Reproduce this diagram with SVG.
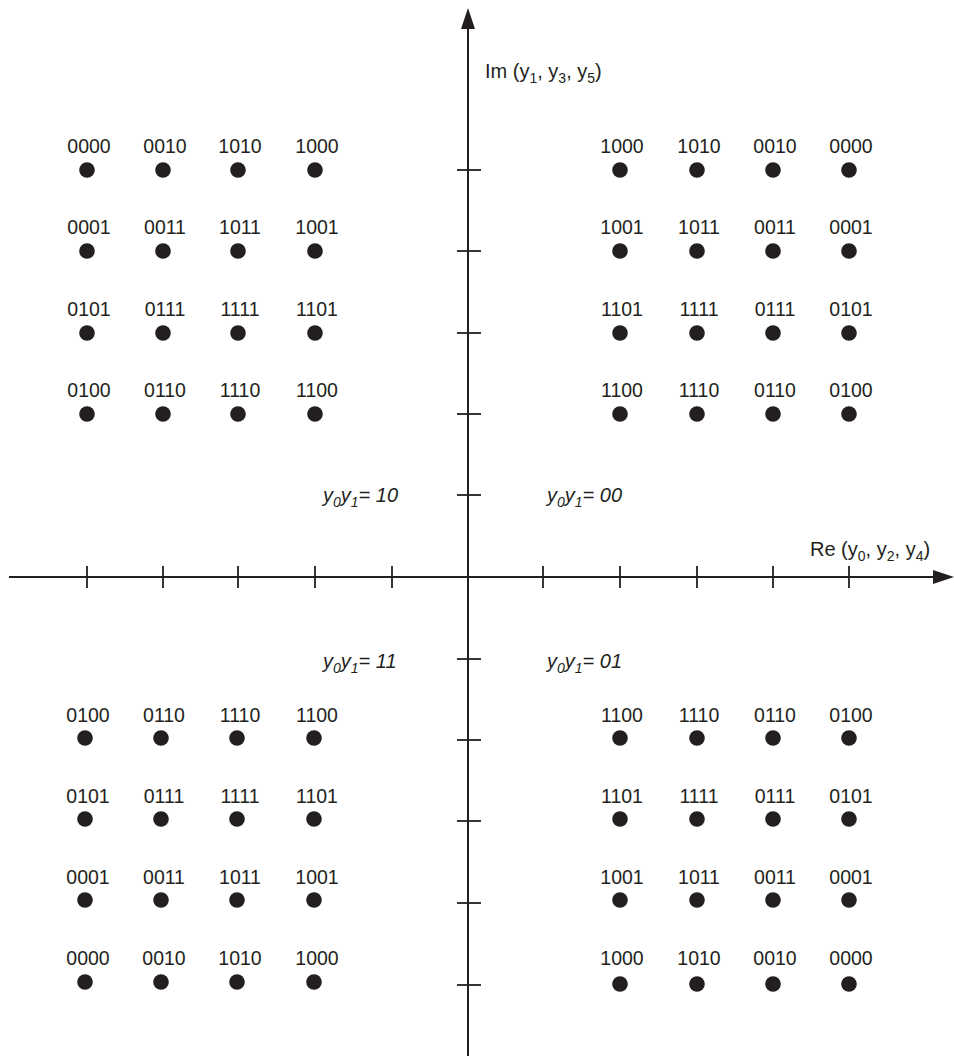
<svg xmlns="http://www.w3.org/2000/svg" width="954" height="1062" viewBox="0 0 954 1062">
<style>
.ax{stroke:#231f20;stroke-width:2;fill:none}
.tk{stroke:#231f20;stroke-width:1.8}
.d{fill:#231f20}
.l{font-family:"Liberation Sans",Arial,sans-serif;font-size:19.5px;fill:#231f20;text-anchor:middle}
.a{font-family:"Liberation Sans",Arial,sans-serif;font-size:20px;fill:#231f20}
.r{font-family:"Liberation Sans",Arial,sans-serif;font-size:20px;fill:#231f20;font-style:italic}
.s{font-size:14px}
</style>
<defs>
<marker id="arr" markerUnits="userSpaceOnUse" markerWidth="22" markerHeight="16" refX="0" refY="7" orient="auto" viewBox="0 0 22 14">
<path d="M0,0 L21,7 L0,14 Z" fill="#231f20"/>
</marker>
</defs>
<g id="connectors">
<line class="ax" x1="468" y1="1056" x2="468" y2="29" marker-end="url(#arr)"/>
<line class="ax" x1="9" y1="577" x2="933" y2="577" marker-end="url(#arr)"/>
<g class="tk">
<line x1="87" y1="566" x2="87" y2="588"/><line x1="163" y1="566" x2="163" y2="588"/><line x1="238" y1="566" x2="238" y2="588"/><line x1="315" y1="566" x2="315" y2="588"/><line x1="392" y1="566" x2="392" y2="588"/>
<line x1="543" y1="566" x2="543" y2="588"/><line x1="620" y1="566" x2="620" y2="588"/><line x1="697" y1="566" x2="697" y2="588"/><line x1="773" y1="566" x2="773" y2="588"/><line x1="849" y1="566" x2="849" y2="588"/>
<line x1="457" y1="170" x2="481" y2="170"/><line x1="457" y1="251" x2="481" y2="251"/><line x1="457" y1="333" x2="481" y2="333"/><line x1="457" y1="414" x2="481" y2="414"/><line x1="457" y1="495" x2="481" y2="495"/>
<line x1="457" y1="659" x2="481" y2="659"/><line x1="457" y1="740" x2="481" y2="740"/><line x1="457" y1="821" x2="481" y2="821"/><line x1="457" y1="903" x2="481" y2="903"/><line x1="457" y1="985" x2="481" y2="985"/>
</g>
</g>
<g id="axis-labels">
<text class="a" x="485" y="78">Im (y<tspan class="s" dy="5">1</tspan><tspan dy="-5">, y</tspan><tspan class="s" dy="5">3</tspan><tspan dy="-5">, y</tspan><tspan class="s" dy="5">5</tspan><tspan dy="-5">)</tspan></text>
<text class="a" x="810" y="556">Re (y<tspan class="s" dy="5">0</tspan><tspan dy="-5">, y</tspan><tspan class="s" dy="5">2</tspan><tspan dy="-5">, y</tspan><tspan class="s" dy="5">4</tspan><tspan dy="-5">)</tspan></text>
</g>
<g id="region-labels">
<text class="r" x="323" y="502">y<tspan class="s" dy="5">0</tspan><tspan dy="-5">y</tspan><tspan class="s" dy="5">1</tspan><tspan dy="-5">= 10</tspan></text>
<text class="r" x="547" y="502">y<tspan class="s" dy="5">0</tspan><tspan dy="-5">y</tspan><tspan class="s" dy="5">1</tspan><tspan dy="-5">= 00</tspan></text>
<text class="r" x="323" y="668">y<tspan class="s" dy="5">0</tspan><tspan dy="-5">y</tspan><tspan class="s" dy="5">1</tspan><tspan dy="-5">= 11</tspan></text>
<text class="r" x="547" y="668">y<tspan class="s" dy="5">0</tspan><tspan dy="-5">y</tspan><tspan class="s" dy="5">1</tspan><tspan dy="-5">= 01</tspan></text>
</g>
<g id="points">
<g id="ul-0000"><circle class="d" cx="87" cy="170" r="7.8"/><text class="l" x="89" y="153">0000</text></g>
<g id="ul-0010"><circle class="d" cx="163" cy="170" r="7.8"/><text class="l" x="165" y="153">0010</text></g>
<g id="ul-1010"><circle class="d" cx="238" cy="170" r="7.8"/><text class="l" x="240" y="153">1010</text></g>
<g id="ul-1000"><circle class="d" cx="315" cy="170" r="7.8"/><text class="l" x="317" y="153">1000</text></g>
<g id="ul-0001"><circle class="d" cx="87" cy="251" r="7.8"/><text class="l" x="89" y="234">0001</text></g>
<g id="ul-0011"><circle class="d" cx="163" cy="251" r="7.8"/><text class="l" x="165" y="234">0011</text></g>
<g id="ul-1011"><circle class="d" cx="238" cy="251" r="7.8"/><text class="l" x="240" y="234">1011</text></g>
<g id="ul-1001"><circle class="d" cx="315" cy="251" r="7.8"/><text class="l" x="317" y="234">1001</text></g>
<g id="ul-0101"><circle class="d" cx="87" cy="333" r="7.8"/><text class="l" x="89" y="316">0101</text></g>
<g id="ul-0111"><circle class="d" cx="163" cy="333" r="7.8"/><text class="l" x="165" y="316">0111</text></g>
<g id="ul-1111"><circle class="d" cx="238" cy="333" r="7.8"/><text class="l" x="240" y="316">1111</text></g>
<g id="ul-1101"><circle class="d" cx="315" cy="333" r="7.8"/><text class="l" x="317" y="316">1101</text></g>
<g id="ul-0100"><circle class="d" cx="87" cy="414" r="7.8"/><text class="l" x="89" y="397">0100</text></g>
<g id="ul-0110"><circle class="d" cx="163" cy="414" r="7.8"/><text class="l" x="165" y="397">0110</text></g>
<g id="ul-1110"><circle class="d" cx="238" cy="414" r="7.8"/><text class="l" x="240" y="397">1110</text></g>
<g id="ul-1100"><circle class="d" cx="315" cy="414" r="7.8"/><text class="l" x="317" y="397">1100</text></g>

<g id="ur-1000"><circle class="d" cx="620" cy="170" r="7.8"/><text class="l" x="622" y="153">1000</text></g>
<g id="ur-1010"><circle class="d" cx="697" cy="170" r="7.8"/><text class="l" x="699" y="153">1010</text></g>
<g id="ur-0010"><circle class="d" cx="773" cy="170" r="7.8"/><text class="l" x="775" y="153">0010</text></g>
<g id="ur-0000"><circle class="d" cx="849" cy="170" r="7.8"/><text class="l" x="851" y="153">0000</text></g>
<g id="ur-1001"><circle class="d" cx="620" cy="251" r="7.8"/><text class="l" x="622" y="234">1001</text></g>
<g id="ur-1011"><circle class="d" cx="697" cy="251" r="7.8"/><text class="l" x="699" y="234">1011</text></g>
<g id="ur-0011"><circle class="d" cx="773" cy="251" r="7.8"/><text class="l" x="775" y="234">0011</text></g>
<g id="ur-0001"><circle class="d" cx="849" cy="251" r="7.8"/><text class="l" x="851" y="234">0001</text></g>
<g id="ur-1101"><circle class="d" cx="620" cy="333" r="7.8"/><text class="l" x="622" y="316">1101</text></g>
<g id="ur-1111"><circle class="d" cx="697" cy="333" r="7.8"/><text class="l" x="699" y="316">1111</text></g>
<g id="ur-0111"><circle class="d" cx="773" cy="333" r="7.8"/><text class="l" x="775" y="316">0111</text></g>
<g id="ur-0101"><circle class="d" cx="849" cy="333" r="7.8"/><text class="l" x="851" y="316">0101</text></g>
<g id="ur-1100"><circle class="d" cx="620" cy="414" r="7.8"/><text class="l" x="622" y="397">1100</text></g>
<g id="ur-1110"><circle class="d" cx="697" cy="414" r="7.8"/><text class="l" x="699" y="397">1110</text></g>
<g id="ur-0110"><circle class="d" cx="773" cy="414" r="7.8"/><text class="l" x="775" y="397">0110</text></g>
<g id="ur-0100"><circle class="d" cx="849" cy="414" r="7.8"/><text class="l" x="851" y="397">0100</text></g>

<g id="ll-0100"><circle class="d" cx="85" cy="738" r="7.8"/><text class="l" x="88" y="722">0100</text></g>
<g id="ll-0110"><circle class="d" cx="161" cy="738" r="7.8"/><text class="l" x="164" y="722">0110</text></g>
<g id="ll-1110"><circle class="d" cx="237" cy="738" r="7.8"/><text class="l" x="240" y="722">1110</text></g>
<g id="ll-1100"><circle class="d" cx="314" cy="738" r="7.8"/><text class="l" x="317" y="722">1100</text></g>
<g id="ll-0101"><circle class="d" cx="85" cy="819" r="7.8"/><text class="l" x="88" y="803">0101</text></g>
<g id="ll-0111"><circle class="d" cx="161" cy="819" r="7.8"/><text class="l" x="164" y="803">0111</text></g>
<g id="ll-1111"><circle class="d" cx="237" cy="819" r="7.8"/><text class="l" x="240" y="803">1111</text></g>
<g id="ll-1101"><circle class="d" cx="314" cy="819" r="7.8"/><text class="l" x="317" y="803">1101</text></g>
<g id="ll-0001"><circle class="d" cx="85" cy="900" r="7.8"/><text class="l" x="88" y="884">0001</text></g>
<g id="ll-0011"><circle class="d" cx="161" cy="900" r="7.8"/><text class="l" x="164" y="884">0011</text></g>
<g id="ll-1011"><circle class="d" cx="237" cy="900" r="7.8"/><text class="l" x="240" y="884">1011</text></g>
<g id="ll-1001"><circle class="d" cx="314" cy="900" r="7.8"/><text class="l" x="317" y="884">1001</text></g>
<g id="ll-0000"><circle class="d" cx="85" cy="982" r="7.8"/><text class="l" x="88" y="965">0000</text></g>
<g id="ll-0010"><circle class="d" cx="161" cy="982" r="7.8"/><text class="l" x="164" y="965">0010</text></g>
<g id="ll-1010"><circle class="d" cx="237" cy="982" r="7.8"/><text class="l" x="240" y="965">1010</text></g>
<g id="ll-1000"><circle class="d" cx="314" cy="982" r="7.8"/><text class="l" x="317" y="965">1000</text></g>

<g id="lr-1100"><circle class="d" cx="620" cy="738" r="7.8"/><text class="l" x="622" y="722">1100</text></g>
<g id="lr-1110"><circle class="d" cx="697" cy="738" r="7.8"/><text class="l" x="699" y="722">1110</text></g>
<g id="lr-0110"><circle class="d" cx="773" cy="738" r="7.8"/><text class="l" x="775" y="722">0110</text></g>
<g id="lr-0100"><circle class="d" cx="849" cy="738" r="7.8"/><text class="l" x="851" y="722">0100</text></g>
<g id="lr-1101"><circle class="d" cx="620" cy="819" r="7.8"/><text class="l" x="622" y="803">1101</text></g>
<g id="lr-1111"><circle class="d" cx="697" cy="819" r="7.8"/><text class="l" x="699" y="803">1111</text></g>
<g id="lr-0111"><circle class="d" cx="773" cy="819" r="7.8"/><text class="l" x="775" y="803">0111</text></g>
<g id="lr-0101"><circle class="d" cx="849" cy="819" r="7.8"/><text class="l" x="851" y="803">0101</text></g>
<g id="lr-1001"><circle class="d" cx="620" cy="900" r="7.8"/><text class="l" x="622" y="884">1001</text></g>
<g id="lr-1011"><circle class="d" cx="697" cy="900" r="7.8"/><text class="l" x="699" y="884">1011</text></g>
<g id="lr-0011"><circle class="d" cx="773" cy="900" r="7.8"/><text class="l" x="775" y="884">0011</text></g>
<g id="lr-0001"><circle class="d" cx="849" cy="900" r="7.8"/><text class="l" x="851" y="884">0001</text></g>
<g id="lr-1000"><circle class="d" cx="620" cy="984" r="7.8"/><text class="l" x="622" y="965">1000</text></g>
<g id="lr-1010"><circle class="d" cx="697" cy="984" r="7.8"/><text class="l" x="699" y="965">1010</text></g>
<g id="lr-0010"><circle class="d" cx="773" cy="984" r="7.8"/><text class="l" x="775" y="965">0010</text></g>
<g id="lr-0000"><circle class="d" cx="849" cy="984" r="7.8"/><text class="l" x="851" y="965">0000</text></g>
</g>
</svg>
